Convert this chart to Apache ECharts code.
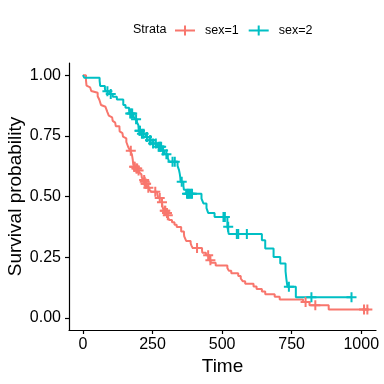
<!DOCTYPE html>
<html>
<head>
<meta charset="utf-8">
<script src="https://cdn.jsdelivr.net/npm/echarts@6/dist/echarts.min.js"></script>
<style>html,body{margin:0;padding:0;background:#fff}#c{width:384px;height:384px}</style>
</head>
<body>
<div id="c"></div>
<script>
// Kaplan-Meier steps [time, survival]
var sex1Steps = [[0,1],[11,0.9783],[12,0.9710],[13,0.9565],[15,0.9493],[26,0.9420],[30,0.9348],[31,0.9275],[53,0.9130],[54,0.9058],[59,0.8986],[60,0.8913],[65,0.8768],[71,0.8696],[81,0.8623],[88,0.8478],[92,0.8406],[93,0.8333],[95,0.8261],[105,0.8188],[107,0.8116],[110,0.8043],[116,0.7971],[118,0.7899],[131,0.7826],[132,0.7681],[135,0.7609],[142,0.7536],[144,0.7464],[147,0.7391],[156,0.7246],[163,0.7029],[166,0.6957],[170,0.6884],[175,0.6811],[176,0.6738],[177,0.6664],[179,0.6518],[180,0.6445],[181,0.6298],[183,0.6225],[189,0.6150],[197,0.6073],[202,0.5995],[207,0.5917],[210,0.5839],[212,0.5762],[218,0.5684],[222,0.5605],[223,0.5525],[229,0.5442],[230,0.5360],[239,0.5276],[246,0.5192],[267,0.5107],[269,0.5022],[270,0.4937],[283,0.4850],[284,0.4764],[285,0.4676],[286,0.4588],[288,0.4500],[291,0.4411],[301,0.4319],[303,0.4225],[306,0.4129],[310,0.4033],[320,0.3937],[329,0.3841],[337,0.3745],[353,0.3553],[363,0.3457],[364,0.3361],[371,0.3169],[387,0.3073],[390,0.2977],[394,0.2881],[428,0.2782],[429,0.2683],[442,0.2584],[455,0.2481],[457,0.2377],[460,0.2269],[477,0.2161],[519,0.2053],[524,0.1945],[533,0.1837],[558,0.1729],[567,0.1621],[574,0.1513],[583,0.1405],[613,0.1297],[624,0.1189],[643,0.1081],[655,0.0973],[689,0.0865],[707,0.0757],[791,0.0649],[814,0.0519],[883,0.0346],[1022,0.0346]];
var sex1Censor = [[172,0.6884],[184,0.6225],[186,0.6225],[192,0.6150],[195,0.6150],[200,0.6073],[220,0.5684],[222,0.5605],[225,0.5525],[227,0.5525],[235,0.5360],[260,0.5192],[276,0.4937],[284,0.4764],[294,0.4411],[296,0.4411],[302,0.4319],[305,0.4225],[410,0.2881],[450,0.2584],[458,0.2377],[800,0.0649],[835,0.0519],[1010,0.0346],[1022,0.0346]];

var sex2Steps = [[0,1],[5,0.9889],[60,0.9778],[61,0.9667],[62,0.9556],[79,0.9444],[81,0.9333],[95,0.9221],[107,0.9107],[122,0.8993],[145,0.8766],[153,0.8652],[166,0.8538],[167,0.8424],[182,0.8305],[186,0.8187],[194,0.8066],[199,0.7946],[201,0.7705],[208,0.7581],[226,0.7452],[239,0.7322],[245,0.7186],[268,0.7045],[285,0.6895],[293,0.6742],[305,0.6585],[310,0.6428],[340,0.6264],[345,0.6099],[348,0.5934],[350,0.5769],[351,0.5604],[361,0.5439],[363,0.5274],[371,0.5109],[426,0.4913],[433,0.4716],[444,0.4520],[450,0.4323],[473,0.4160],[519,0.3750],[524,0.3450],[643,0.3200],[655,0.2860],[685,0.2510],[709,0.2240],[728,0.1920],[731,0.1600],[735,0.1280],[765,0.0850],[965,0.0850]];
var sex2Censor = [[88,0.9333],[100,0.9221],[170,0.8424],[174,0.8424],[177,0.8424],[191,0.8187],[203,0.7705],[205,0.7705],[212,0.7581],[218,0.7581],[230,0.7452],[241,0.7322],[243,0.7322],[252,0.7186],[262,0.7186],[272,0.7045],[277,0.7045],[281,0.7045],[288,0.6895],[300,0.6742],[322,0.6428],[330,0.6428],[355,0.5604],[374,0.5109],[378,0.5109],[382,0.5109],[387,0.5109],[392,0.5109],[505,0.4160],[510,0.4160],[522,0.3750],[553,0.3450],[558,0.3450],[589,0.3450],[740,0.1280],[821,0.0850],[965,0.0850]];

var strataNames = ['sex=1', 'sex=2'];
var strataColors = ['#F8766D', '#00BFC4'];
var xTicks = [0, 250, 500, 750, 1000];
var yTicks = [0, 0.25, 0.5, 0.75, 1];

var FONT = 'Liberation Sans, Arial, sans-serif';
var plus = 'path://M0,4H10V6H0Z M4,0H6V10H4Z';
var chart = echarts.init(document.getElementById('c'), null, {renderer: 'canvas'});

function lineSeries(i, data) {
  return {
    name: strataNames[i], type: 'line', step: 'end', data: data,
    showSymbol: false, symbol: 'none', animation: false,
    color: strataColors[i],
    lineStyle: {color: strataColors[i], width: 2}
  };
}
function censorSeries(i, data) {
  return {
    name: strataNames[i] + ' censor', type: 'scatter', data: data,
    symbol: plus, symbolSize: 10, animation: false,
    itemStyle: {color: strataColors[i], opacity: 1},
    z: 3
  };
}

chart.setOption({
  backgroundColor: '#fff',
  animation: false,
  grid: {left: 69, right: 8, top: 63, bottom: 54, containLabel: false, outerBoundsMode: 'none'},
  legend: {
    data: [{name: strataNames[0]}, {name: strataNames[1]}],
    left: 175, top: 24, padding: 0,
    itemWidth: 20, itemHeight: 10, itemGap: 10,
    icon: 'path://M0,4H20V6H0Z M9,0H11V10H9Z',
    textStyle: {fontFamily: FONT, fontSize: 12.5, color: '#000', padding: [0, 0, 0, 5]}
  },
  graphic: [{
    type: 'text', left: 133, top: 23,
    style: {text: 'Strata', font: '12.5px ' + FONT, fill: '#000'}
  }],
  xAxis: {
    type: 'value', min: -50, max: 1053,
    name: 'Time', nameLocation: 'middle', nameGap: 27, nameMoveOverlap: false,
    nameTextStyle: {fontFamily: FONT, fontSize: 19, color: '#000'},
    axisLine: {show: true, onZero: false, lineStyle: {color: '#000', width: 1.2}},
    axisTick: {show: true, length: 4, lineStyle: {color: '#000', width: 1.2}, customValues: xTicks},
    axisLabel: {fontFamily: FONT, fontSize: 16, color: '#000', margin: 7, customValues: xTicks,
      formatter: function (v) { return String(v); }},
    splitLine: {show: false}
  },
  yAxis: {
    type: 'value', min: -0.05, max: 1.05,
    name: 'Survival probability', nameLocation: 'middle', nameGap: 44, nameMoveOverlap: false,
    nameTextStyle: {fontFamily: FONT, fontSize: 19, color: '#000'},
    axisLine: {show: true, onZero: false, lineStyle: {color: '#000', width: 1.2}},
    axisTick: {show: true, length: 4, lineStyle: {color: '#000', width: 1.2}, customValues: yTicks},
    axisLabel: {fontFamily: FONT, fontSize: 16, color: '#000', margin: 8, customValues: yTicks,
      formatter: function (v) { return v.toFixed(2); }},
    splitLine: {show: false}
  },
  series: [
    lineSeries(0, sex1Steps),
    lineSeries(1, sex2Steps),
    censorSeries(0, sex1Censor),
    censorSeries(1, sex2Censor)
  ]
});
</script>
</body>
</html>
